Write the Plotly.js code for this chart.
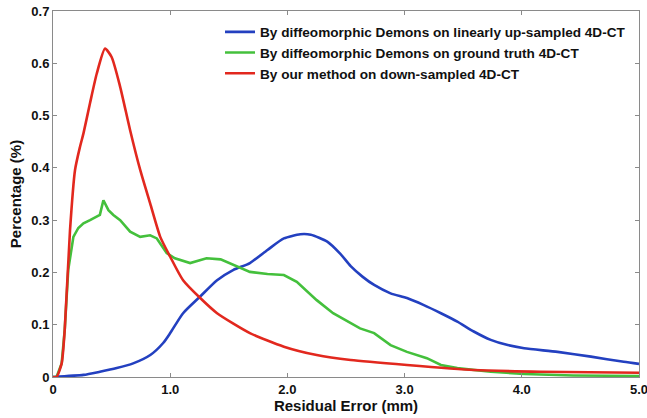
<!DOCTYPE html>
<html><head><meta charset="utf-8">
<script src="https://cdn.plot.ly/plotly-3.0.1.min.js"></script>
<style>html,body{margin:0;padding:0;background:#fff;}#chart{width:647px;height:418px;}</style>
</head><body><div id="chart"></div>
<script>
const seriesNames = [
  "By diffeomorphic Demons on linearly up-sampled 4D-CT",
  "By diffeomorphic Demons on ground truth 4D-CT",
  "By our method on down-sampled 4D-CT"
];
const blueX = [0, 0.26, 0.40, 0.544, 0.684, 0.83, 0.94, 1.0, 1.11, 1.256, 1.40, 1.54, 1.68, 1.83, 1.97, 2.11, 2.20, 2.34, 2.45, 2.54, 2.64, 2.74, 2.88, 3.02, 3.16, 3.31, 3.45, 3.59, 3.735, 3.88, 4.02, 4.305, 4.59, 4.87, 5.0];
const blueY = [0, 0.004, 0.01, 0.017, 0.026, 0.042, 0.065, 0.084, 0.122, 0.154, 0.185, 0.205, 0.218, 0.243, 0.265, 0.273, 0.272, 0.259, 0.236, 0.212, 0.192, 0.176, 0.16, 0.151, 0.138, 0.122, 0.106, 0.087, 0.071, 0.061, 0.055, 0.048, 0.039, 0.029, 0.025];
const greenX = [0, 0.03, 0.074, 0.10, 0.13, 0.174, 0.216, 0.26, 0.316, 0.373, 0.40, 0.43, 0.473, 0.515, 0.573, 0.658, 0.744, 0.829, 0.886, 0.97, 1.04, 1.17, 1.31, 1.43, 1.54, 1.68, 1.83, 1.97, 2.08, 2.25, 2.39, 2.54, 2.62, 2.74, 2.88, 3.02, 3.19, 3.31, 3.45, 3.735, 4.02, 4.44, 5.0];
const greenY = [0, 0, 0.026, 0.09, 0.205, 0.268, 0.285, 0.294, 0.30, 0.306, 0.31, 0.338, 0.319, 0.31, 0.30, 0.278, 0.268, 0.271, 0.265, 0.237, 0.227, 0.218, 0.227, 0.225, 0.214, 0.201, 0.197, 0.195, 0.182, 0.147, 0.122, 0.103, 0.093, 0.084, 0.061, 0.048, 0.036, 0.023, 0.017, 0.010, 0.0057, 0.003, 0.002];
const redX = [0, 0.03, 0.074, 0.10, 0.145, 0.188, 0.23, 0.26, 0.316, 0.373, 0.444, 0.50, 0.573, 0.658, 0.744, 0.829, 0.915, 1.0, 1.11, 1.256, 1.40, 1.68, 1.97, 2.25, 2.54, 3.02, 3.59, 4.16, 5.0];
const redY = [0, 0, 0.026, 0.09, 0.28, 0.396, 0.44, 0.466, 0.524, 0.58, 0.628, 0.612, 0.555, 0.472, 0.396, 0.332, 0.268, 0.23, 0.185, 0.151, 0.122, 0.084, 0.058, 0.042, 0.0325, 0.023, 0.0134, 0.010, 0.008];
const xTickVals = [0, 1, 2, 3, 4, 5];
const xTickText = ["0", "1.0", "2.0", "3.0", "4.0", "5.0"];
const yTickVals = [0, 0.1, 0.2, 0.3, 0.4, 0.5, 0.6, 0.7];
const yTickText = ["0", "0.1", "0.2", "0.3", "0.4", "0.5", "0.6", "0.7"];

const F = "Liberation Sans, Arial, sans-serif";
const traces = [
  {x: blueX, y: blueY, name: seriesNames[0], mode: "lines", line: {color: "#2340c0", width: 2.6, shape: "spline", smoothing: 0.6}},
  {x: greenX, y: greenY, name: seriesNames[1], mode: "lines", line: {color: "#44c03c", width: 2.6}},
  {x: redX, y: redY, name: seriesNames[2], mode: "lines", line: {color: "#e2281e", width: 2.6, shape: "spline", smoothing: 0.6}}
];
const axisCommon = {
  showgrid: false, zeroline: false, showline: true, linecolor: "#8a8a8a", linewidth: 1,
  mirror: "ticks", ticks: "inside", ticklen: 4, tickcolor: "#8a8a8a",
  ticklabeloverflow: "allow",
  tickfont: {family: F, size: 13, color: "#111", weight: "bold"}
};
const layout = {
  width: 647, height: 418,
  margin: {l: 53, r: 8, t: 11, b: 41},
  paper_bgcolor: "#ffffff", plot_bgcolor: "#ffffff",
  showlegend: true,
  legend: {x: 0.285, y: 0.985, xanchor: "left", yanchor: "top", bgcolor: "rgba(0,0,0,0)",
           font: {family: F, size: 13.6, color: "#111", weight: "bold"}, tracegroupgap: 0},
  xaxis: Object.assign({}, axisCommon, {range: [0, 5], tickvals: xTickVals, ticktext: xTickText,
    title: {text: "Residual Error (mm)", font: {family: F, size: 15, color: "#111", weight: "bold"}, standoff: 2}}),
  yaxis: Object.assign({}, axisCommon, {range: [0, 0.7], tickvals: yTickVals, ticktext: yTickText,
    title: {text: "Percentage (%)", font: {family: F, size: 15, color: "#111", weight: "bold"}, standoff: 6}})
};
Plotly.newPlot("chart", traces, layout, {displayModeBar: false, staticPlot: true});
</script>
</body></html>
